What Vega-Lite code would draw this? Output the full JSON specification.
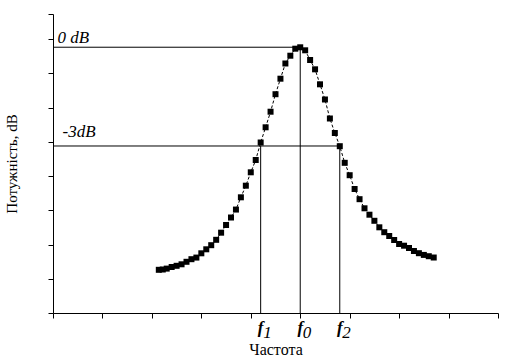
{
  "$schema": "https://vega.github.io/schema/vega-lite/v6.json",
  "width": 445,
  "height": 299,
  "autosize": {"type": "none"},
  "padding": {"left": 53, "top": 14, "right": 13, "bottom": 49},
  "background": "white",
  "config": {
    "view": {"stroke": null},
    "axis": {
      "domainColor": "black", "tickColor": "black", "labels": false, "grid": false,
      "tickSize": 5, "domainWidth": 1, "tickWidth": 1,
      "titleFont": "Liberation Serif", "titleFontWeight": "normal", "titleColor": "black"
    }
  },
  "encoding": {
    "x": {
      "field": "x", "type": "quantitative",
      "scale": {"domain": [0, 9], "nice": false, "zero": false},
      "axis": {"values": [0, 1, 2, 3, 4, 5, 6, 7, 8, 9], "title": "Частота", "titleFontSize": 16, "titlePadding": 23}
    },
    "y": {
      "field": "y", "type": "quantitative",
      "scale": {"domain": [0, 8.73], "nice": false, "zero": false},
      "axis": {"values": [0, 1, 2, 3, 4, 5, 6, 7, 8, 8.73], "title": "Потужність, dB", "titleFontSize": 15, "titlePadding": 28}
    }
  },
  "layer": [
    {
      "data": {"values": [
        {"x": 0, "x2": 5, "y": 7.76, "y2": 7.76},
        {"x": 0, "x2": 5.8, "y": 4.876, "y2": 4.876},
        {"x": 4.2, "x2": 4.2, "y": 0, "y2": 4.876},
        {"x": 5, "x2": 5, "y": 0, "y2": 7.76},
        {"x": 5.8, "x2": 5.8, "y": 0, "y2": 4.876}
      ]},
      "mark": {"type": "rule", "color": "black", "strokeWidth": 1},
      "encoding": {"x2": {"field": "x2"}, "y2": {"field": "y2"}}
    },
    {
      "data": {"name": "curve", "values": [
        {"x": 2.14, "y": 1.261}, {"x": 2.22, "y": 1.270}, {"x": 2.3, "y": 1.296}, {"x": 2.4, "y": 1.343},
        {"x": 2.5, "y": 1.378}, {"x": 2.6, "y": 1.422}, {"x": 2.7, "y": 1.495}, {"x": 2.8, "y": 1.571},
        {"x": 2.9, "y": 1.618}, {"x": 3.0, "y": 1.743}, {"x": 3.1, "y": 1.860}, {"x": 3.2, "y": 1.980},
        {"x": 3.3, "y": 2.137}, {"x": 3.4, "y": 2.345}, {"x": 3.5, "y": 2.569}, {"x": 3.6, "y": 2.788},
        {"x": 3.7, "y": 3.020}, {"x": 3.8, "y": 3.378}, {"x": 3.9, "y": 3.717}, {"x": 4.0, "y": 4.108},
        {"x": 4.1, "y": 4.467}, {"x": 4.2, "y": 4.978}, {"x": 4.3, "y": 5.422}, {"x": 4.4, "y": 5.877},
        {"x": 4.5, "y": 6.388}, {"x": 4.6, "y": 6.841}, {"x": 4.7, "y": 7.285}, {"x": 4.8, "y": 7.512},
        {"x": 4.9, "y": 7.717}, {"x": 5.0, "y": 7.758}, {"x": 5.1, "y": 7.670}, {"x": 5.2, "y": 7.387},
        {"x": 5.3, "y": 7.115}, {"x": 5.4, "y": 6.677}, {"x": 5.5, "y": 6.234}, {"x": 5.6, "y": 5.679},
        {"x": 5.7, "y": 5.255}, {"x": 5.8, "y": 4.870}, {"x": 5.9, "y": 4.385}, {"x": 6.0, "y": 4.023},
        {"x": 6.1, "y": 3.620}, {"x": 6.2, "y": 3.323}, {"x": 6.3, "y": 3.057}, {"x": 6.4, "y": 2.870},
        {"x": 6.5, "y": 2.692}, {"x": 6.6, "y": 2.502}, {"x": 6.7, "y": 2.359}, {"x": 6.8, "y": 2.248},
        {"x": 6.9, "y": 2.131}, {"x": 7.0, "y": 2.015}, {"x": 7.1, "y": 1.965}, {"x": 7.2, "y": 1.898},
        {"x": 7.3, "y": 1.810}, {"x": 7.4, "y": 1.746}, {"x": 7.5, "y": 1.696}, {"x": 7.6, "y": 1.658},
        {"x": 7.7, "y": 1.620}
      ]},
      "mark": {"type": "line", "color": "black", "strokeWidth": 1, "strokeDash": [3, 2]},
      "encoding": {}
    },
    {
      "data": {"name": "curve"},
      "mark": {"type": "point", "shape": "square", "filled": true, "size": 36, "color": "black", "opacity": 1},
      "encoding": {}
    },
    {
      "data": {"values": [
        {"x": 0.093, "y": 7.875, "label": "0 dB"},
        {"x": 0.194, "y": 5.147, "label": "-3dB"}
      ]},
      "mark": {"type": "text", "align": "left", "baseline": "alphabetic", "font": "Liberation Serif", "fontStyle": "italic", "fontSize": 17, "color": "black"},
      "encoding": {"text": {"field": "label"}}
    },
    {
      "data": {"name": "flabels", "values": [
        {"x": 4.2, "y": 0, "sub": "1"}, {"x": 5.0, "y": 0, "sub": "0"}, {"x": 5.8, "y": 0, "sub": "2"}
      ]},
      "mark": {"type": "text", "align": "center", "baseline": "alphabetic", "dy": 20, "font": "Liberation Serif", "fontStyle": "italic", "fontWeight": "bold", "fontSize": 17, "color": "black"},
      "encoding": {"text": {"value": "f"}}
    },
    {
      "data": {"name": "flabels"},
      "mark": {"type": "text", "align": "left", "baseline": "alphabetic", "dx": 2.5, "dy": 25, "font": "Liberation Serif", "fontStyle": "italic", "fontSize": 17, "color": "black"},
      "encoding": {"text": {"field": "sub"}}
    }
  ]
}
